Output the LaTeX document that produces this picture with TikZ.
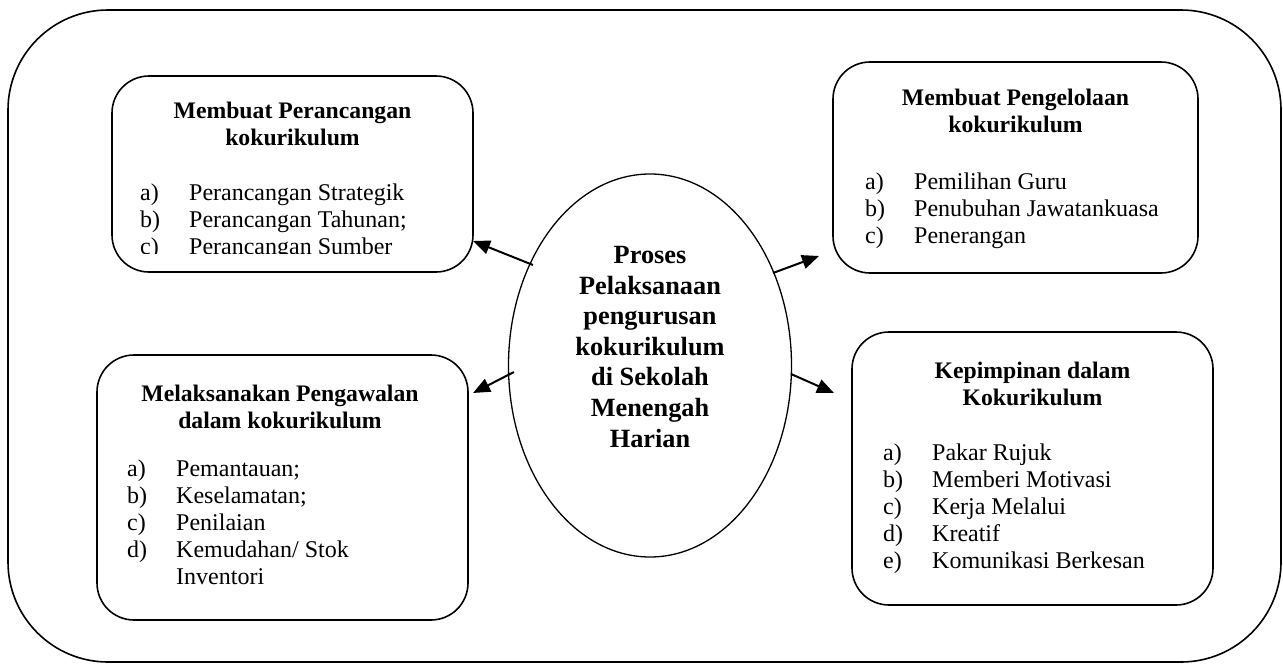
\documentclass[tikz,border=0pt]{standalone}
\usepackage{fontspec}
\setmainfont{Liberation Serif}
\usetikzlibrary{arrows.meta,shapes.geometric}
\newcommand\itemlab[1]{\makebox[49pt][l]{#1}}
\begin{document}
\begin{tikzpicture}[x=1pt,y=-1pt,
  outer/.style={draw,line width=1.6pt,rounded corners=100pt},
  box/.style={draw,line width=1.6pt,rounded corners=37pt,inner sep=0pt},
  oval/.style={draw,ellipse,line width=1.3pt,inner sep=0pt},
  head/.style={anchor=base,align=center,inner sep=0pt,font=\fontsize{23.7}{26.8}\selectfont\bfseries},
  items/.style={anchor=base west,align=left,inner sep=0pt,font=\fontsize{24}{26.8}\selectfont},
  ctext/.style={anchor=base,align=center,inner sep=0pt,font=\fontsize{26.3}{30.6}\selectfont\bfseries},
  arr/.style={line width=2pt,-{Triangle[length=17pt,width=14pt]}},
  ]
\useasboundingbox (0,0) rectangle (1283,664);
\draw[outer] (8,10) rectangle (1281,662);

% boxes
\node[box,minimum width=361pt,minimum height=196pt] (tl) at (292.5,174) {};
\node[box,minimum width=365pt,minimum height=211pt] (tr) at (1015.5,167.5) {};
\node[box,minimum width=371pt,minimum height=265pt] (bl) at (282.5,487.5) {};
\node[box,minimum width=361pt,minimum height=273pt] (br) at (1032.5,468.5) {};

% central ellipse
\node[oval,minimum width=283pt,minimum height=383pt] (ell) at (650,365.5) {};
\node[ctext] (ellt) at (650,447) {Proses\\Pelaksanaan\\pengurusan\\kokurikulum\\di Sekolah\\Menengah\\Harian};

% top-left
\node[head] (tlh) at (292.5,145) {Membuat Perancangan\\kokurikulum};
\begin{scope}
\clip (100,170) rectangle (480,253);
\node[items] (tli) at (140,254) {\itemlab{a)}Perancangan Strategik\\\itemlab{b)}Perancangan Tahunan;\\\itemlab{c)}Perancangan Sumber};
\end{scope}

% top-right
\node[head] (trh) at (1015.5,132) {Membuat Pengelolaan\\kokurikulum};
\node[items] (tri) at (865,243) {\itemlab{a)}Pemilihan Guru\\\itemlab{b)}Penubuhan Jawatankuasa\\\itemlab{c)}Penerangan};

% bottom-left
\node[head] (blh) at (280,428) {Melaksanakan Pengawalan\\dalam kokurikulum};
\node[items] (bli) at (127,584) {\itemlab{a)}Pemantauan;\\\itemlab{b)}Keselamatan;\\\itemlab{c)}Penilaian\\\itemlab{d)}Kemudahan/ Stok\\\itemlab{}Inventori};

% bottom-right
\node[head] (brh) at (1032.5,405) {Kepimpinan dalam\\Kokurikulum};
\node[items] (bri) at (883,568) {\itemlab{a)}Pakar Rujuk\\\itemlab{b)}Memberi Motivasi\\\itemlab{c)}Kerja Melalui\\\itemlab{d)}Kreatif\\\itemlab{e)}Komunikasi Berkesan};

% arrows
\coordinate (a1s) at (533,265);
\coordinate (a1e) at (473,241);
\coordinate (a2s) at (773,273);
\coordinate (a2e) at (819,256);
\coordinate (a3s) at (514,372);
\coordinate (a3e) at (473,393);
\coordinate (a4s) at (791,374);
\coordinate (a4e) at (834,393);
\draw[arr] (a1s) -- (a1e);
\draw[arr] (a2s) -- (a2e);
\draw[arr] (a3s) -- (a3e);
\draw[arr] (a4s) -- (a4e);
\end{tikzpicture}
\end{document}
